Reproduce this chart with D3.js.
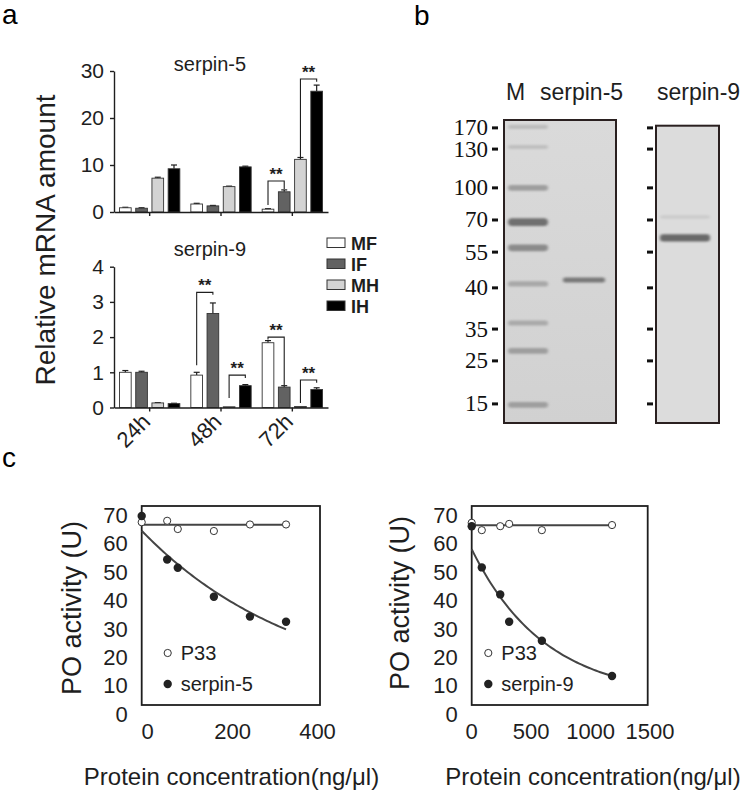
<!DOCTYPE html>
<html><head><meta charset="utf-8">
<script src="https://cdn.jsdelivr.net/npm/d3@7"></script>
<style>
body{margin:0;background:#fff}
svg{display:block;font-family:"Liberation Sans",Arial,sans-serif}
</style>
</head><body>
<svg id="fig" width="745" height="790"></svg>
<script>
// ---------------- DATA ----------------
// Panel a: relative mRNA amount
const timePoints = ["24h", "48h", "72h"];
const groupNames = ["MF", "IF", "MH", "IH"];
const s5_MF = [0.9, 1.7, 0.6];
const s5_IF = [0.8, 1.3, 4.3];
const s5_MH = [7.2, 5.4, 11.2];
const s5_IH = [9.2, 9.6, 25.7];
const s5_MF_err = [0.1, 0.15, 0.1];
const s5_IF_err = [0.1, 0.1, 0.4];
const s5_MH_err = [0.2, 0.1, 0.4];
const s5_IH_err = [0.8, 0.15, 1.3];
const s9_MF = [1.0, 0.92, 1.84];
const s9_IF = [1.0, 2.67, 0.58];
const s9_MH = [0.13, 0.02, 0.03];
const s9_IH = [0.11, 0.62, 0.51];
const s9_MF_err = [0.05, 0.08, 0.06];
const s9_IF_err = [0.03, 0.3, 0.04];
const s9_MH_err = [0.01, 0, 0];
const s9_IH_err = [0.01, 0.03, 0.05];
const s5Ticks = [0, 10, 20, 30];
const s9Ticks = [0, 1, 2, 3, 4];
// significance brackets: time, from, to, top value, left leg end, right leg end
const s5Brackets = [["72h", "MF", "IF", 6.6, 1.5, 4.9], ["72h", "MH", "IH", 28.3, 11.7, 27.7]];
const s9Brackets = [["48h", "MF", "IF", 3.27, 1.2, 3.2], ["48h", "MH", "IH", 0.92, 0.27, 0.84],
                    ["72h", "MF", "IF", 2.0, 1.93, 0.64], ["72h", "MH", "IH", 0.78, 0.13, 0.7]];

// Panel b: SDS-PAGE (relative migration, 0 = top of gel, 1 = bottom)
const markerLabels = ["170", "130", "100", "70", "55", "40", "35", "25", "15"];
const markerRf = [0.026, 0.096, 0.224, 0.33, 0.436, 0.554, 0.69, 0.795, 0.937];
const ladderRf = [0.023, 0.089, 0.224, 0.337, 0.422, 0.541, 0.67, 0.762, 0.94];
const ladderDensity = [0.14, 0.12, 0.3, 0.55, 0.4, 0.25, 0.24, 0.3, 0.3];
const serpin5BandRf = [0.528];
const serpin5BandDensity = [0.5];
const serpin9BandRf = [0.32, 0.389];
const serpin9BandDensity = [0.06, 0.58];

// Panel c: PO activity
const conc_s5 = [0, 60, 85, 170, 255, 340];
const p33_s5 = [67.5, 68.0, 65.1, 64.4, 66.7, 66.7];
const serpin5_PO = [69.7, 54.4, 51.5, 41.3, 34.3, 32.5];
const conc_s9 = [0, 85, 240, 315, 590, 1180];
const p33_s9 = [67.3, 64.7, 66.1, 66.9, 64.7, 66.5];
const serpin9_PO = [66.1, 51.6, 42.1, 32.5, 25.8, 13.4];
// fitted decay curves: [plateau, span, rate, max concentration]
const s5Fit = [5.9, 58.6, 0.00264, 340];
const s9Fit = [5.64, 52.36, 0.001618, 1180];
const p33Fit_s5 = [66.6, 340];
const p33Fit_s9 = [66.4, 1180];
const poTicks = [0, 10, 20, 30, 40, 50, 60, 70];
const concTicks_s5 = [0, 200, 400];
const concTicks_s9 = [0, 500, 1000, 1500];

// ---------------- DRAWING ----------------
const svg = d3.select("#fig");
const ink = "#1e1e1e";
const fills = {MF: "#ffffff", IF: "#626262", MH: "#d3d3d3", IH: "#000000"};

// panel letters
svg.append("text").attr("x", 2).attr("y", 24).attr("font-size", 28).text("a");
svg.append("text").attr("x", 414).attr("y", 25).attr("font-size", 28).text("b");
svg.append("text").attr("x", 2).attr("y", 467).attr("font-size", 28).text("c");

// ---- panel a ----
const xGroup = d3.scaleBand().domain(timePoints).range([114, 328]);
const xSub = d3.scaleBand().domain(groupNames).range([5.5, xGroup.bandwidth() - 5.5]).paddingInner(0.28);

function barChart(opts) {
  const y = d3.scaleLinear().domain(opts.domain).range(opts.range);
  const g = svg.append("g");
  const vals = {MF: opts.MF, IF: opts.IF, MH: opts.MH, IH: opts.IH};
  const errs = {MF: opts.MFe, IF: opts.IFe, MH: opts.MHe, IH: opts.IHe};
  timePoints.forEach((t, i) => {
    groupNames.forEach(s => {
      const x0 = xGroup(t) + xSub(s), w = xSub.bandwidth(), v = vals[s][i], e = errs[s][i];
      const cx = x0 + w / 2;
      if (e > 0) {
        g.append("line").attr("x1", cx).attr("x2", cx).attr("y1", y(v)).attr("y2", y(v + e))
          .attr("stroke", ink).attr("stroke-width", 1.2);
        g.append("line").attr("x1", cx - 3).attr("x2", cx + 3).attr("y1", y(v + e)).attr("y2", y(v + e))
          .attr("stroke", ink).attr("stroke-width", 1.2);
      }
      g.append("rect").attr("x", x0).attr("y", y(v)).attr("width", w).attr("height", y(0) - y(v))
        .attr("fill", fills[s]).attr("stroke", "#333").attr("stroke-width", 0.9);
    });
  });
  // brackets
  opts.brackets.forEach(b => {
    const [t, a, c, top, l, r] = b;
    const xa = xGroup(t) + xSub(a) + xSub.bandwidth() / 2;
    const xc = xGroup(t) + xSub(c) + xSub.bandwidth() / 2;
    g.append("path").attr("d", `M${xa},${y(l)}V${y(top)}H${xc}V${y(r)}`)
      .attr("fill", "none").attr("stroke", ink).attr("stroke-width", 1.1);
    g.append("text").attr("x", (xa + xc) / 2).attr("y", y(top) - 1).attr("text-anchor", "middle")
      .attr("font-size", 17).attr("font-weight", "bold").attr("fill", ink).text("**");
  });
  // axes
  const ya = g.append("g").attr("transform", "translate(114,0)")
    .call(d3.axisLeft(y).tickValues(opts.ticks).tickSize(4).tickSizeOuter(0).tickPadding(6).tickFormat(d3.format("d")));
  ya.selectAll("text").attr("font-size", 21).attr("fill", ink).attr("font-family", "Liberation Sans, Arial, sans-serif");
  ya.selectAll("line,path").attr("stroke", ink).attr("stroke-width", 1.4);
  const xa = g.append("g").attr("transform", `translate(0,${y(0)})`)
    .call(d3.axisBottom(xGroup).tickSize(4).tickSizeOuter(0).tickFormat(""));
  xa.selectAll("line,path").attr("stroke", ink).attr("stroke-width", 1.4);
  g.append("text").attr("x", 210).attr("y", opts.titleY).attr("text-anchor", "middle")
    .attr("font-size", 20).attr("fill", ink).text(opts.title);
  return {y, g};
}

barChart({domain: [0, 30], range: [212, 71], MF: s5_MF, IF: s5_IF, MH: s5_MH, IH: s5_IH,
  MFe: s5_MF_err, IFe: s5_IF_err, MHe: s5_MH_err, IHe: s5_IH_err, ticks: s5Ticks,
  brackets: s5Brackets, title: "serpin-5", titleY: 71});
barChart({domain: [0, 4], range: [407.5, 266.7], MF: s9_MF, IF: s9_IF, MH: s9_MH, IH: s9_IH,
  MFe: s9_MF_err, IFe: s9_IF_err, MHe: s9_MH_err, IHe: s9_IH_err, ticks: s9Ticks,
  brackets: s9Brackets, title: "serpin-9", titleY: 256});

// rotated time labels
timePoints.forEach(t => {
  const cx = xGroup(t) + xGroup.bandwidth() / 2;
  svg.append("text").attr("transform", `translate(${cx + 2},${423}) rotate(-45)`)
    .attr("text-anchor", "end").attr("font-size", 22).attr("fill", ink).text(t);
});
// y title
svg.append("text").attr("transform", "translate(55,240) rotate(-90)").attr("text-anchor", "middle")
  .attr("font-size", 28).attr("fill", ink).text("Relative mRNA amount");
// legend
groupNames.forEach((s, i) => {
  const yy = 238 + i * 21;
  svg.append("rect").attr("x", 327).attr("y", yy).attr("width", 18).attr("height", 9.5)
    .attr("fill", fills[s]).attr("stroke", "#333").attr("stroke-width", 1);
  svg.append("text").attr("x", 351).attr("y", yy + 11.5).attr("font-size", 18).attr("font-weight", "bold")
    .attr("fill", ink).text(s);
});

// ---- panel b ----
const defs = svg.append("defs");
defs.append("filter").attr("id", "blur").attr("x", "-20%").attr("y", "-100%").attr("width", "140%").attr("height", "300%")
  .append("feGaussianBlur").attr("stdDeviation", "1.6 1.1");
const gg = defs.append("linearGradient").attr("id", "gelg").attr("x1", 0).attr("y1", 0).attr("x2", 0).attr("y2", 1);
gg.append("stop").attr("offset", 0).attr("stop-color", "#dadada");
gg.append("stop").attr("offset", 1).attr("stop-color", "#d1d1d1");

const gelY = d3.scaleLinear().domain([0, 1]).range([120, 423]);
const lane1 = d3.scaleBand().domain(["M", "serpin-5"]).range([500, 612]);
const lane2 = d3.scaleBand().domain(["serpin-9"]).range([660, 710]);
const shade = d3.scaleLinear().domain([0, 1]).range(["#d6d6d6", "#1a1a1a"]);

svg.append("rect").attr("x", 504).attr("y", 120).attr("width", 112).attr("height", 303)
  .attr("fill", "url(#gelg)");
svg.append("rect").attr("x", 656).attr("y", 125.7).attr("width", 63).attr("height", 297.3)
  .attr("fill", "#dcdcdc");

const bandsG = svg.append("g").attr("filter", "url(#blur)");
ladderRf.forEach((rf, i) => {
  const d = ladderDensity[i];
  const h = 3 + d * 9;
  bandsG.append("rect").attr("x", lane1("M") + 8).attr("y", gelY(rf) - h / 2)
    .attr("width", lane1.bandwidth() - 16).attr("height", h).attr("rx", h / 2)
    .attr("fill", shade(d));
});
serpin5BandRf.forEach((rf, i) => {
  bandsG.append("rect").attr("x", lane1("serpin-5") + 7).attr("y", gelY(rf) - 2.5)
    .attr("width", lane1.bandwidth() - 14).attr("height", 5).attr("rx", 2)
    .attr("fill", shade(serpin5BandDensity[i]));
});
serpin9BandRf.forEach((rf, i) => {
  const d = serpin9BandDensity[i];
  const h = 3 + d * 7;
  bandsG.append("rect").attr("x", lane2("serpin-9")).attr("y", gelY(rf) - h / 2)
    .attr("width", lane2.bandwidth()).attr("height", h).attr("rx", 3)
    .attr("fill", shade(d));
});
svg.append("rect").attr("x", 504).attr("y", 120).attr("width", 112).attr("height", 303)
  .attr("fill", "none").attr("stroke", "#2a2020").attr("stroke-width", 2);
svg.append("rect").attr("x", 656).attr("y", 125.7).attr("width", 63).attr("height", 297.3)
  .attr("fill", "none").attr("stroke", "#2a2020").attr("stroke-width", 2);

markerRf.forEach((rf, i) => {
  const yy = gelY(rf);
  svg.append("line").attr("x1", 492).attr("x2", 498).attr("y1", yy).attr("y2", yy)
    .attr("stroke", "#111").attr("stroke-width", 3);
  svg.append("line").attr("x1", 647).attr("x2", 653).attr("y1", yy).attr("y2", yy)
    .attr("stroke", "#111").attr("stroke-width", 3);
  svg.append("text").attr("x", 488).attr("y", yy + 7.5).attr("text-anchor", "end")
    .attr("font-family", "Liberation Serif, Times New Roman, serif").attr("font-size", 23)
    .attr("fill", "#111").text(markerLabels[i]);
});
svg.append("text").attr("x", 506).attr("y", 100).attr("font-size", 23).attr("fill", ink).text("M");
svg.append("text").attr("x", 540).attr("y", 100).attr("font-size", 23).attr("fill", ink).text("serpin-5");
svg.append("text").attr("x", 657).attr("y", 100).attr("font-size", 23).attr("fill", ink).text("serpin-9");

// ---- panel c ----
function poChart(o) {
  const x = d3.scaleLinear().domain(o.xDomain).range(o.xRange);
  const y = d3.scaleLinear().domain([3.2, 73.2]).range([705, 506]);
  const g = svg.append("g");
  g.append("rect").attr("x", o.xRange[0]).attr("y", 506).attr("width", o.xRange[1] - o.xRange[0]).attr("height", 199)
    .attr("fill", "none").attr("stroke", ink).attr("stroke-width", 1.8);
  poTicks.forEach(v => {
    g.append("text").attr("x", o.xRange[0] - 14).attr("y", y(v) + 7.8).attr("text-anchor", "end")
      .attr("font-size", 22).attr("fill", ink).text(v);
  });
  o.xTicks.forEach(v => {
    g.append("text").attr("x", x(v) + o.xdx).attr("y", 739).attr("text-anchor", "middle")
      .attr("font-size", 22).attr("fill", ink).text(v);
  });
  const line = d3.line().x(d => x(d[0])).y(d => y(d[1]));
  const [pv, pmax] = o.p33Fit;
  g.append("path").attr("d", line([[0, pv], [pmax, pv]])).attr("fill", "none")
    .attr("stroke", "#444").attr("stroke-width", 2);
  const [c0, a, k, xmax] = o.fit;
  const curvePts = d3.range(0, 61).map(i => { const c = xmax * i / 60; return [c, c0 + a * Math.exp(-k * c)]; });
  g.append("path").attr("d", line(curvePts)).attr("fill", "none").attr("stroke", "#444").attr("stroke-width", 2);
  o.conc.forEach((c, i) => {
    g.append("circle").attr("cx", x(c)).attr("cy", y(o.p33[i])).attr("r", 3.6)
      .attr("fill", "#fff").attr("stroke", "#333").attr("stroke-width", 1);
  });
  o.conc.forEach((c, i) => {
    g.append("circle").attr("cx", x(c)).attr("cy", y(o.serp[i])).attr("r", 4.2).attr("fill", "#222");
  });
  g.append("circle").attr("cx", o.legX).attr("cy", 653).attr("r", 3.6).attr("fill", "#fff")
    .attr("stroke", "#333").attr("stroke-width", 1);
  g.append("text").attr("x", o.legX + 13).attr("y", 660).attr("font-size", 20).attr("fill", ink).text("P33");
  g.append("circle").attr("cx", o.legX).attr("cy", 684).attr("r", 4.2).attr("fill", "#222");
  g.append("text").attr("x", o.legX + 13).attr("y", 691).attr("font-size", 20).attr("fill", ink).text(o.name);
  g.append("text").attr("transform", `translate(${o.yTitleX},${o.yTitleY}) rotate(-90)`).attr("text-anchor", "middle")
    .attr("font-size", 27).attr("fill", ink).text("PO activity (U)");
  g.append("text").attr("x", o.xTitleX).attr("y", 785).attr("text-anchor", "middle")
    .attr("font-size", 24).attr("fill", ink).text("Protein concentration(ng/μl)");
}

poChart({xDomain: [0, 420], xRange: [141.7, 320], xTicks: concTicks_s5, xdx: 6,
  conc: conc_s5, p33: p33_s5, serp: serpin5_PO, fit: s5Fit, p33Fit: p33Fit_s5,
  name: "serpin-5", legX: 167.7, yTitleX: 81, yTitleY: 608, xTitleX: 231.5});
poChart({xDomain: [0, 1480], xRange: [471.7, 647.7], xTicks: concTicks_s9, xdx: 0,
  conc: conc_s9, p33: p33_s9, serp: serpin9_PO, fit: s9Fit, p33Fit: p33Fit_s9,
  name: "serpin-9", legX: 488.3, yTitleX: 409, yTitleY: 603, xTitleX: 593});
</script>
</body></html>
